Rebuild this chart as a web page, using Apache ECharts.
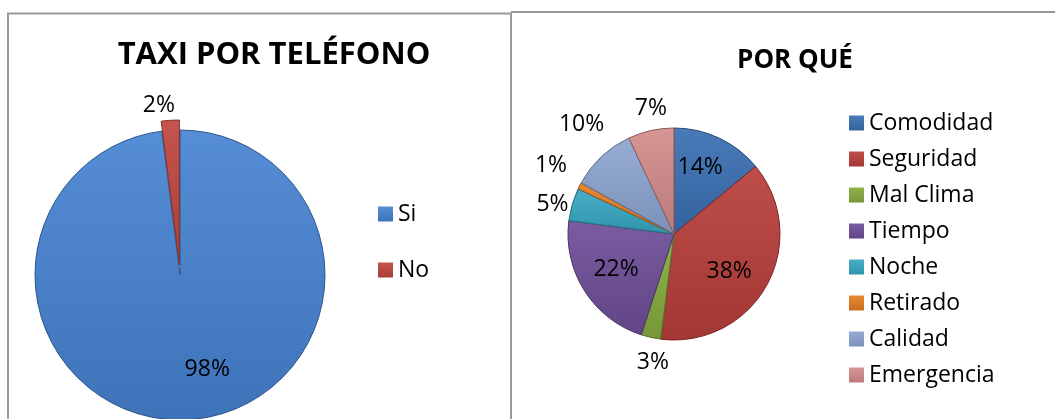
<!DOCTYPE html>
<html>
<head>
<meta charset="utf-8">
<script src="https://cdn.jsdelivr.net/npm/echarts@6/dist/echarts.min.js"></script>
<style>
html,body{margin:0;padding:0;background:#fff;}
#chart{width:1055px;height:419px;}
</style>
</head>
<body>
<div id="chart"></div>
<script>
// datos
var telCats = ['Si', 'No'];
var telVals = [98, 2];
var porCats = ['Comodidad', 'Seguridad', 'Mal Clima', 'Tiempo', 'Noche', 'Retirado', 'Calidad', 'Emergencia'];
var porVals = [14, 38, 3, 22, 5, 1, 10, 7];

// colores y ajustes de etiquetas
var telColors = ['#4683d2', '#c0463f'];
var porColors = ['#3a6fb3', '#b83e3a', '#86ac3e', '#6e4e98', '#36a8c2', '#e67e22', '#8da5d0', '#d38c8b'];
var telInside = [true, false];
var porInside = [true, true, false, true, false, false, false, false];
var telNudge = [[21, -5], [-10, 6]];
var porNudge = [[-4, -2], [-7, 3], [9, -6], [2, -3], [11, 9], [0, -6], [2, -9], [7, 9]];

var FONT = 'Open Sans';

function shade(hex, amt) {
	var n = parseInt(hex.slice(1), 16);
	var r = (n >> 16) & 255, g = (n >> 8) & 255, b = n & 255;
	function f(c) { return Math.max(0, Math.min(255, Math.round(amt > 0 ? c + (255 - c) * amt : c * (1 + amt)))); }
	return 'rgb(' + f(r) + ',' + f(g) + ',' + f(b) + ')';
}
function grad(hex) {
	return new echarts.graphic.LinearGradient(0, 0, 0, 1, [
		{offset: 0, color: shade(hex, 0.08)},
		{offset: 1, color: shade(hex, -0.12)}
	]);
}

function mainData(cats, vals, colors, selIdx) {
	return cats.map(function (c, i) {
		return {
			name: c, value: vals[i], selected: i === selIdx,
			itemStyle: {color: grad(colors[i]), borderColor: shade(colors[i], -0.35), borderWidth: 1}
		};
	});
}
function labelData(cats, vals, inside, wantInside) {
	return cats.map(function (c, i) {
		return {name: c, value: vals[i], label: {show: inside[i] === wantInside}};
	});
}
function labelSeries(center, radius, data, nudge) {
	return {
		type: 'pie', center: center, radius: radius, startAngle: 90, clockwise: true,
		silent: true, legendHoverLink: false, avoidLabelOverlap: false,
		itemStyle: {color: 'rgba(0,0,0,0)', borderWidth: 0},
		label: {position: 'inside', formatter: '{d}%', fontFamily: FONT, fontSize: 23, color: '#000'},
		labelLine: {show: false},
		labelLayout: function (p) {
			return {dx: nudge[p.dataIndex][0], dy: nudge[p.dataIndex][1]};
		},
		emphasis: {disabled: true},
		percentPrecision: 0,
		data: data
	};
}

var chart = echarts.init(document.getElementById('chart'));
chart.setOption({
	animation: false,
	title: [{
		text: 'TAXI POR TELÉFONO', left: 269, top: 35, textAlign: 'center',
		textStyle: {fontFamily: FONT, fontSize: 31, fontWeight: 'bold', color: '#000'}
	}, {
		text: 'POR QUÉ', left: 790, top: 43, textAlign: 'center',
		textStyle: {fontFamily: FONT, fontSize: 26, fontWeight: 'bold', color: '#000'}
	}],
	legend: [{
		data: telCats, orient: 'vertical', left: 373, top: 196,
		icon: 'rect', itemWidth: 15, itemHeight: 15, itemGap: 30, itemStyle: {borderWidth: 0},
		selectedMode: false,
		textStyle: {fontFamily: FONT, fontSize: 23, color: '#000', lineHeight: 26}
	}, {
		data: porCats, orient: 'vertical', left: 844, top: 105,
		icon: 'rect', itemWidth: 15, itemHeight: 15, itemGap: 10, itemStyle: {borderWidth: 0},
		selectedMode: false,
		textStyle: {fontFamily: FONT, fontSize: 23, color: '#000', lineHeight: 26}
	}],
	graphic: [{
		type: 'polyline', silent: true,
		shape: {points: [[8, 430], [8, 13.5], [511, 13.5], [511, 430]]},
		style: {stroke: '#999', lineWidth: 2, fill: null}
	}, {
		type: 'line', silent: true,
		shape: {x1: 511, y1: 12, x2: 1060, y2: 12},
		style: {stroke: '#999', lineWidth: 2}
	}],
	series: [{
		name: 'TAXI POR TELÉFONO', type: 'pie', center: [180, 275], radius: [0, 145],
		startAngle: 90, clockwise: true, selectedMode: 'single', selectedOffset: 10,
		label: {show: false}, labelLine: {show: false}, emphasis: {scale: false},
		data: mainData(telCats, telVals, telColors, 1)
	},
	labelSeries([180, 275], [60, 134], labelData(telCats, telVals, telInside, true), telNudge),
	labelSeries([180, 275], [150, 196], labelData(telCats, telVals, telInside, false), telNudge),
	{
		name: 'POR QUÉ', type: 'pie', center: [674, 234], radius: [0, 106],
		startAngle: 90, clockwise: true,
		label: {show: false}, labelLine: {show: false}, emphasis: {scale: false},
		data: mainData(porCats, porVals, porColors, -1)
	},
	labelSeries([674, 234], [36, 100], labelData(porCats, porVals, porInside, true), porNudge),
	labelSeries([674, 234], [120, 150], labelData(porCats, porVals, porInside, false), porNudge)
	]
});
</script>
</body>
</html>
